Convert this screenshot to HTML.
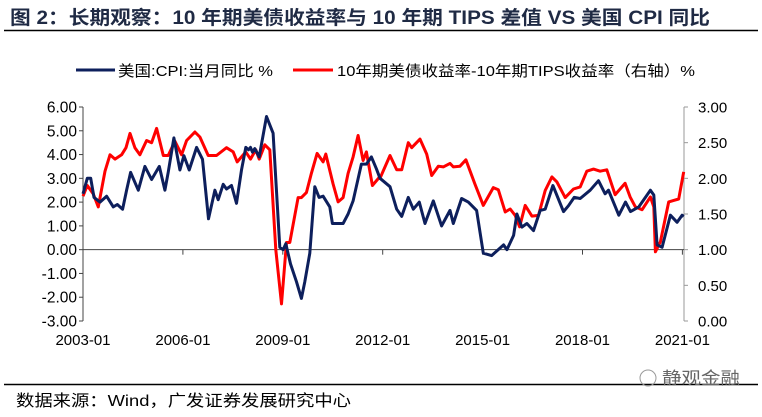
<!DOCTYPE html>
<html><head><meta charset="utf-8"><style>
body{margin:0;background:#fff;width:762px;height:412px;overflow:hidden;font-family:"Liberation Sans","Noto Sans CJK SC",sans-serif}
</style></head><body>
<svg width="762" height="412" xmlns="http://www.w3.org/2000/svg" font-family="Liberation Sans, Noto Sans CJK SC, sans-serif">
<text x="10" y="24" font-size="19" font-weight="bold" fill="#1f2a44" textLength="700" lengthAdjust="spacingAndGlyphs">图 2：长期观察：10 年期美债收益率与 10 年期 TIPS 差值 VS 美国 CPI 同比</text>
<line x1="4" y1="30.5" x2="758" y2="30.5" stroke="#000" stroke-width="1.5"/>
<g>
<line x1="76" y1="70" x2="115" y2="70" stroke="#0d1f5c" stroke-width="3"/>
<text x="118" y="76" font-size="15" fill="#000" textLength="155" lengthAdjust="spacingAndGlyphs">美国:CPI:当月同比 %</text>
<line x1="293" y1="70" x2="333" y2="70" stroke="#ff0000" stroke-width="3"/>
<text x="337" y="76" font-size="15" fill="#000" textLength="358" lengthAdjust="spacingAndGlyphs">10年期美债收益率-10年期TIPS收益率（右轴）%</text>
</g>
<g id="axes"></g>
<g id="series"></g>
<line x1="4" y1="384.5" x2="758" y2="384.5" stroke="#000" stroke-width="1.5"/>
<text x="16" y="406" font-size="16" fill="#000" textLength="335" lengthAdjust="spacingAndGlyphs">数据来源：Wind，广发证券发展研究中心</text>
<g>
<circle cx="648" cy="378" r="8" fill="none" stroke="#999" stroke-width="1"/>
<text x="662" y="384" font-size="17" fill="#666" textLength="78" lengthAdjust="spacingAndGlyphs">静观金融</text>
</g>
</svg>
<script>
const cpiX=[2003.0,2003.13,2003.23,2003.33,2003.51,2003.71,2003.91,2004.03,2004.19,2004.31,2004.43,2004.66,2004.86,2005.06,2005.29,2005.46,2005.56,2005.73,2005.91,2006.03,2006.19,2006.41,2006.59,2006.77,2006.96,2007.06,2007.21,2007.31,2007.46,2007.61,2007.76,2007.89,2007.97,2008.03,2008.09,2008.16,2008.29,2008.51,2008.71,2008.91,2009.01,2009.09,2009.23,2009.41,2009.56,2009.66,2009.81,2009.96,2010.09,2010.21,2010.41,2010.49,2010.61,2010.81,2010.96,2011.11,2011.36,2011.51,2011.66,2011.81,2011.92,2012.22,2012.42,2012.57,2012.77,2012.92,2013.1,2013.27,2013.52,2013.77,2014.02,2014.12,2014.37,2014.57,2014.82,2015.02,2015.27,2015.63,2015.73,2015.93,2016.03,2016.18,2016.33,2016.53,2016.73,2016.88,2017.11,2017.43,2017.58,2017.75,2017.93,2018.23,2018.48,2018.68,2018.78,2019.09,2019.29,2019.44,2019.69,2020.04,2020.14,2020.24,2020.39,2020.64,2020.84,2020.99,2021.04];
const cpiY=[2.35,3.0,3.0,2.2,2.0,2.25,1.8,1.9,1.7,2.5,3.25,2.5,3.5,2.95,3.5,2.5,3.25,4.7,3.35,3.95,3.35,4.3,3.8,1.3,2.5,2.1,2.75,2.55,2.7,1.95,3.35,4.3,4.2,4.3,4.1,4.25,3.9,5.6,4.9,0.1,0,0.25,-0.6,-1.35,-2.05,-1.35,-0.15,2.65,2.2,2.25,1.8,1.1,1.1,1.1,1.5,2.05,3.6,3.6,3.9,3.4,3.0,2.65,1.7,1.4,2.2,1.7,2.0,1.1,2.05,1.0,1.65,1.1,2.15,2.0,1.65,-0.15,-0.25,0.2,0,0.6,1.5,0.95,1.1,0.8,1.65,1.7,2.7,1.6,1.85,2.2,2.15,2.5,2.9,2.35,2.5,1.45,2.0,1.6,1.8,2.5,2.3,0.2,0.1,1.45,1.15,1.45,1.4];
const tipsX=[2003.0,2003.13,2003.31,2003.46,2003.66,2003.81,2003.96,2004.16,2004.29,2004.41,2004.56,2004.71,2004.91,2005.06,2005.21,2005.41,2005.56,2005.76,2005.96,2006.11,2006.36,2006.51,2006.76,2007.01,2007.31,2007.51,2007.63,2007.89,2008.03,2008.19,2008.29,2008.46,2008.61,2008.79,2008.96,2009.11,2009.21,2009.46,2009.56,2009.71,2009.86,2010.03,2010.21,2010.29,2010.51,2010.66,2010.81,2010.96,2011.11,2011.26,2011.41,2011.51,2011.69,2011.91,2011.92,2012.22,2012.42,2012.57,2012.77,2012.87,2013.12,2013.32,2013.47,2013.67,2013.82,2014.02,2014.12,2014.32,2014.5,2014.77,2015.02,2015.32,2015.47,2015.68,2015.83,2015.98,2016.11,2016.28,2016.48,2016.68,2016.88,2017.08,2017.23,2017.48,2017.73,2017.93,2018.13,2018.33,2018.53,2018.73,2018.98,2019.28,2019.43,2019.59,2019.79,2020.04,2020.14,2020.19,2020.34,2020.59,2020.74,2020.89,2021.04];
const tipsY=[1.75,1.9,1.78,1.6,2.1,2.33,2.27,2.33,2.43,2.63,2.43,2.33,2.53,2.5,2.7,2.32,2.32,2.52,2.33,2.53,2.65,2.58,2.32,2.32,2.43,2.37,2.23,2.37,2.27,2.4,2.27,2.47,2.4,1.0,0.24,1.1,1.1,1.73,1.73,1.8,2.07,2.35,2.23,2.34,1.92,1.67,1.73,2.07,2.3,2.6,2.25,2.37,1.9,2.02,2.0,2.32,2.12,2.12,2.5,2.43,2.55,2.34,2.04,2.17,2.16,2.21,2.16,2.17,2.26,1.92,1.62,1.87,1.84,1.53,1.57,1.48,1.32,1.62,1.47,1.48,1.83,2.02,1.95,1.73,1.85,1.88,2.1,2.13,2.1,2.12,1.77,1.93,1.74,1.6,1.56,1.74,1.6,0.97,1.11,1.67,1.69,1.71,2.09];
const leftTicks=[6,5,4,3,2,1,0,-1,-2,-3];
const rightTicks=[3,2.5,2,1.5,1,0.5,0];
const xTickYears=[2003,2006,2009,2012,2015,2018,2021];
const X0=83,X1=684,T=107,B=321;
const xs=y=>X0+(y-2003)*33.3;
const yl=v=>T+(6-v)*(B-T)/9;
const yr=v=>T+(3-v)*(B-T)/3;
const NS='http://www.w3.org/2000/svg';
function mk(tag,attrs,parent,txt){const e=document.createElementNS(NS,tag);for(const k in attrs)e.setAttribute(k,attrs[k]);if(txt!==undefined)e.textContent=txt;parent.appendChild(e);return e;}
const ax=document.getElementById('axes'),se=document.getElementById('series');
let e=mk('line',{x1:X0,y1:T,x2:X0,y2:B,stroke:'#444','stroke-width':1},ax);


e=mk('line',{x1:X1,y1:T,x2:X1,y2:B,stroke:'#999','stroke-width':1},ax);


e=mk('line',{x1:X0,y1:yl(0),x2:X1,y2:yl(0),stroke:'#444','stroke-width':1},ax);


leftTicks.forEach(v=>{mk('line',{x1:X0-4,y1:yl(v),x2:X0,y2:yl(v),stroke:'#444'},ax);
e=mk('text',{x:X0-6,y:yl(v)+5.5,'font-size':15.5,'text-anchor':'end',fill:'#000'},ax,v.toFixed(2));

});
rightTicks.forEach(v=>{mk('line',{x1:X1,y1:yr(v),x2:X1+4,y2:yr(v),stroke:'#999'},ax);
e=mk('text',{x:X1+14,y:yr(v)+5.5,'font-size':15,fill:'#000'},ax,v.toFixed(2));

});
xTickYears.forEach(y=>{mk('line',{x1:xs(y),y1:yl(0),x2:xs(y),y2:yl(0)+5,stroke:'#444'},ax);
e=mk('text',{x:xs(y),y:345,'font-size':15,'text-anchor':'middle',fill:'#000'},ax,y+'-01');

});
function path(xa,ya,f){return xa.map((x,i)=>(i?'L':'M')+xs(x).toFixed(1)+','+f(ya[i]).toFixed(1)).join('');}
e=mk('path',{d:path(tipsX,tipsY,yr),fill:'none',stroke:'#ff0000','stroke-width':3,'stroke-linejoin':'round'},se);


e=mk('path',{d:path(cpiX,cpiY,yl),fill:'none',stroke:'#0d1f5c','stroke-width':3,'stroke-linejoin':'round'},se);


</script>
</body></html>
